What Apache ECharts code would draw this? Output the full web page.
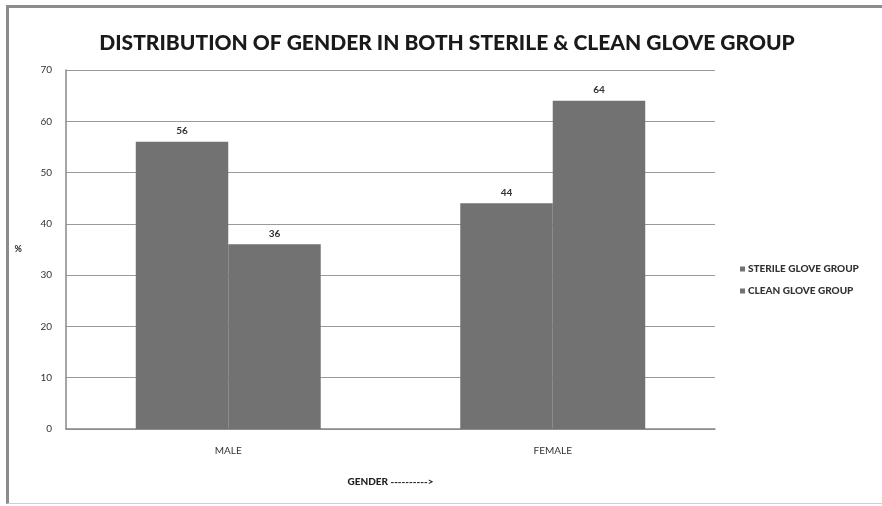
<!DOCTYPE html>
<html>
<head>
<meta charset="utf-8">
<script src="https://cdn.jsdelivr.net/npm/echarts@6/dist/echarts.min.js"></script>
<style>
  html, body { margin: 0; padding: 0; background: #fff; }
  #frame {
    position: absolute; left: 6px; top: 5px; width: 876px; height: 499px;
    border-top: 3px solid #8c8c8c; border-left: 3px solid #8c8c8c;
    border-bottom: 1px solid #d0d0d0; box-sizing: border-box;
  }
  #chart { position: absolute; left: 0; top: 0; width: 882px; height: 506px; }
</style>
</head>
<body>
<div id="frame"></div>
<div id="chart"></div>
<script>
const categories = ['MALE', 'FEMALE'];
const seriesNames = ['STERILE GLOVE GROUP', 'CLEAN GLOVE GROUP'];
const sterileValues = [56, 44];
const cleanValues = [36, 64];
const yTicks = [0, 10, 20, 30, 40, 50, 60, 70];

const font = 'Lato, "Liberation Sans", sans-serif';
const barColor = '#727272';

const chart = echarts.init(document.getElementById('chart'), null, { renderer: 'canvas' });

const labelStyle = {
  show: true, position: 'top', distance: 6,
  color: '#333', fontSize: 10, fontFamily: font, fontWeight: 'bold'
};

chart.setOption({
  animation: false,
  backgroundColor: 'transparent',
  title: {
    text: 'DISTRIBUTION OF GENDER IN BOTH STERILE & CLEAN GLOVE GROUP',
    left: 442, top: 28, textAlign: 'center',
    textStyle: { fontFamily: font, fontWeight: 900, fontSize: 21, color: '#1a1a1a' }
  },
  legend: {
    orient: 'vertical', left: 735, top: 259, itemGap: 12,
    itemWidth: 5, itemHeight: 5, icon: 'rect',
    data: seriesNames,
    textStyle: { fontFamily: font, fontSize: 10, fontWeight: 900, color: '#333', padding: [0, 0, 0, -2] }
  },
  grid: { left: 66, top: 70, right: 167, bottom: 77, containLabel: false },
  xAxis: {
    type: 'category', data: categories,
    name: 'GENDER ---------->', nameLocation: 'middle', nameGap: 48,
    nameTextStyle: { fontFamily: font, fontSize: 10, fontWeight: 900, color: '#222' },
    axisLine: { lineStyle: { color: '#888', width: 1.5 } },
    axisTick: { show: false },
    axisLabel: { fontFamily: font, fontSize: 10, color: '#333', margin: 17 }
  },
  yAxis: {
    type: 'value', min: yTicks[0], max: yTicks[yTicks.length - 1], interval: 10,
    name: '%', nameLocation: 'middle', nameGap: 44, nameRotate: 0,
    nameTextStyle: { fontFamily: font, fontSize: 9, fontWeight: 'bold', color: '#222' },
    axisLine: { show: true, lineStyle: { color: '#888', width: 1.5 } },
    axisTick: { show: false },
    axisLabel: { fontFamily: font, fontSize: 10, color: '#333', margin: 14 },
    splitLine: { lineStyle: { color: '#9a9a9a', width: 1.2 } }
  },
  series: [
    {
      name: seriesNames[0], type: 'bar', data: sterileValues,
      barGap: '0%', barCategoryGap: '43%',
      itemStyle: { color: barColor },
      label: labelStyle
    },
    {
      name: seriesNames[1], type: 'bar', data: cleanValues,
      barGap: '0%', barCategoryGap: '43%',
      itemStyle: { color: barColor },
      label: labelStyle
    }
  ]
});
</script>
</body>
</html>
